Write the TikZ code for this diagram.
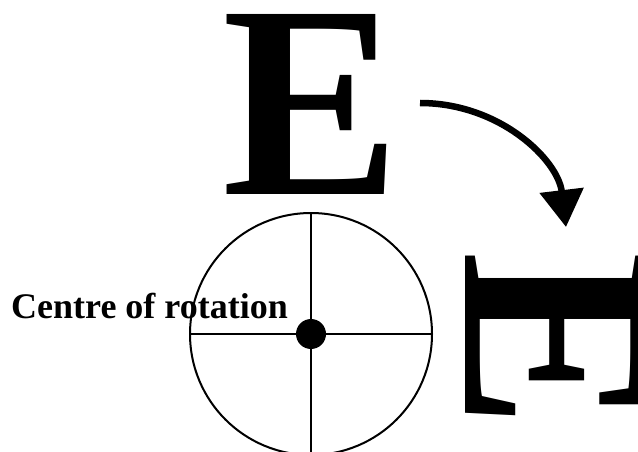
\documentclass[tikz,border=0pt]{standalone}
\usepackage{fontspec}
\setmainfont{Liberation Serif}
\usetikzlibrary{arrows.meta}
\usetikzlibrary{positioning}

\begin{document}
\begin{tikzpicture}[
		x=1pt,
		y=-1pt,
		big letter/.style={font=\bfseries\fontsize{275}{275}\selectfont, inner sep=0pt},
		label node/.style={font=\bfseries\fontsize{36}{40}\selectfont, inner sep=0pt},
		dial/.style={circle, draw, line width=2pt, minimum size=242pt, inner sep=0pt},
		pivot/.style={circle, fill, minimum size=30pt, inner sep=0pt},
		turn arrow/.style={-{Triangle[width=43pt,length=37pt]}, line width=6.5pt}
		]
		\useasboundingbox (0,0) rectangle (638,452);
		
		\node[big letter] (orig) at (311.5,104) {\scalebox{0.97}[1]{E}};
		\node[big letter, rotate=-90] (image) at (556,340) {\scalebox{0.97}[1]{E}};
		
		\node[dial] (wheel) at (311,334) {};
		\draw[line width=2pt] (wheel.north) -- (wheel.south) (wheel.west) -- (wheel.east);
		\node[pivot] (centre) at (wheel.center) {};
		\node[label node, anchor=base west] (caption) at (11,318) {Centre of rotation};
		
		\coordinate (turn start) at (420,103);
		\coordinate (turn end) at (566,227);
		\draw[turn arrow] (turn start) .. controls (500,103) and (558,160) .. (turn end);
	\end{tikzpicture}
\end{document}
